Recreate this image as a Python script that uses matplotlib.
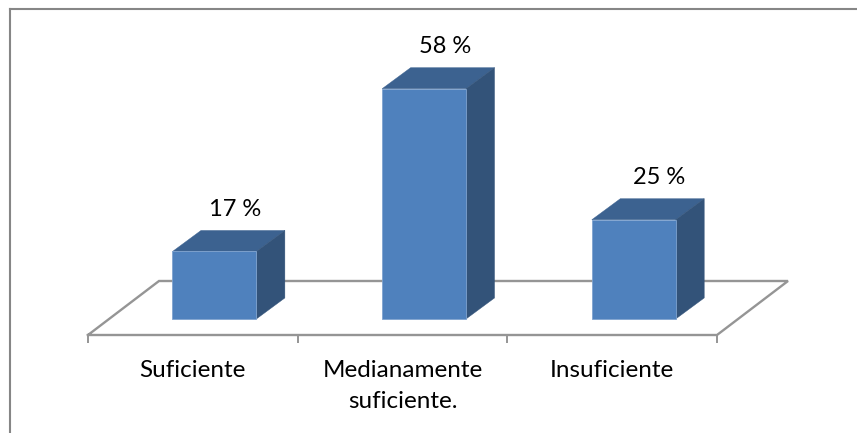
import numpy as np
import matplotlib
matplotlib.use('Agg')
import matplotlib.pyplot as plt
from matplotlib.lines import Line2D

categories = ['Suficiente', 'Medianamente\nsuficiente.', 'Insuficiente']
values = [17, 58, 25]
value_labels = ['17 %', '58 %', '25 %']

plt.rcParams['font.family'] = ['Lato', 'DejaVu Sans']

FRONT = '#4F81BD'
TOP = '#3C6290'
SIDE = '#335379'
EDGE = '#7FA3CF'
GRID = '#959595'

W, H = 857, 433
fig = plt.figure(figsize=(W / 100, H / 100), dpi=100)
# ejes: x de 88 a 717 px, y de 335 a 20 px
ax = fig.add_axes([88 / W, 1 - 335 / H, (717 - 88) / W, (335 - 20) / H])
ax.set_xlim(-0.5, 2.5)
ax.set_ylim(-4.03, 75.3)
ax.patch.set_visible(False)
for s in ax.spines.values():
    s.set_visible(False)

# marco exterior
fig.add_artist(Line2D([9.5 / W, 9.5 / W], [0, 1 - 8.5 / H], color='#868686', lw=1.5))
fig.add_artist(Line2D([9.5 / W, 1], [1 - 8.5 / H, 1 - 8.5 / H], color='#868686', lw=1.5))

# suelo
floor_y = -4.03
floor_dx, floor_dy = 0.3386, 13.6
ax.plot([-0.5, -0.5 + floor_dx, 2.5 + floor_dx, 2.5, -0.5],
        [floor_y, floor_y + floor_dy, floor_y + floor_dy, floor_y, floor_y],
        color=GRID, lw=1.7, clip_on=False, zorder=1, solid_joinstyle='miter')

# barras con profundidad
x = np.arange(len(categories)) + 0.103
width = 0.4
dx, dy = 0.136, 5.3
label_shift = [0.1, 0.1, 0.12]
ax.bar(x, values, width=width, color=FRONT, edgecolor=EDGE, linewidth=0.6, zorder=3)
for xi, v, lab, sh in zip(x, values, value_labels, label_shift):
    l, r = xi - width / 2, xi + width / 2
    ax.fill([l, l + dx, r + dx, r], [v, v + dy, v + dy, v], color=TOP, lw=0.3, zorder=2)
    ax.fill([r, r + dx, r + dx, r], [0, dy, v + dy, v], color=SIDE, lw=0.3, zorder=2)
    ax.text(xi + sh, v + dy + 5.4, lab, ha='center', va='center', fontsize=17,
            color='black', clip_on=False)

# marcas del eje entre categorias
ax.set_xticks(np.arange(len(categories) + 1) - 0.5)
ax.set_xticklabels([])
ax.tick_params(axis='x', which='major', length=6, width=1.4, color=GRID)
ax.set_xticks(np.arange(len(categories)), labels=categories, minor=True)
ax.tick_params(axis='x', which='minor', length=0, pad=18, labelsize=17.5)
for t in ax.get_xticklabels(minor=True):
    t.set_linespacing(1.57)
ax.set_yticks([])

fig.savefig('out.png', dpi=100)
